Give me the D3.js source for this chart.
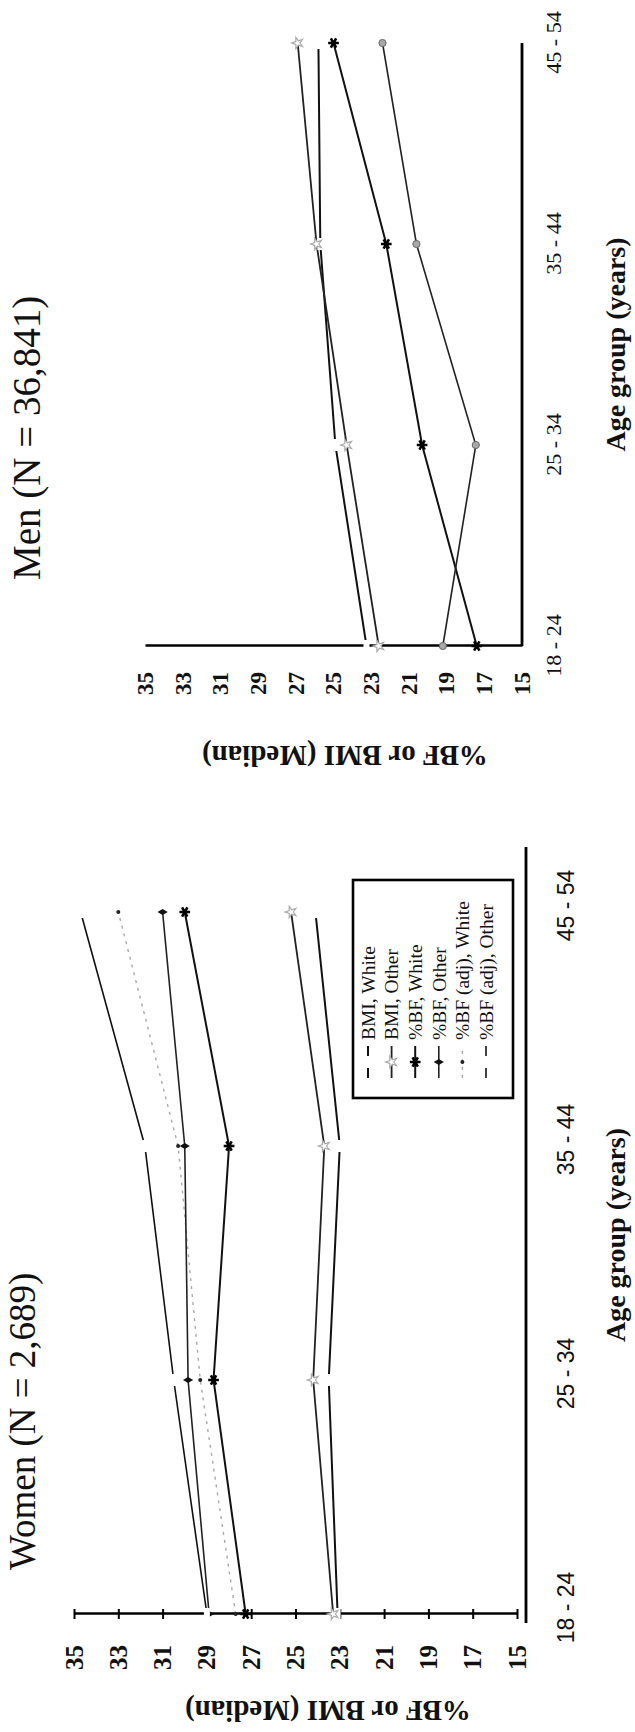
<!DOCTYPE html>
<html>
<head>
<meta charset="utf-8">
<script src="https://cdn.jsdelivr.net/npm/d3@7"></script>
<style>
  body { margin: 0; background: #fff; }
  svg { display: block; }
  text { fill: #111; }
</style>
</head>
<body>
<div id="chart"></div>
<script>
// values (median %BF / BMI by age group)
const ages = ['18 - 24', '25 - 34', '35 - 44', '45 - 54']
const valueTicks = [35, 33, 31, 29, 27, 25, 23, 21, 19, 17, 15]
const seriesNames = ['BMI, White', 'BMI, Other', '%BF, White', '%BF, Other',
  '%BF (adj), White', '%BF (adj), Other']

const womenBmiWhite = [23.1, 23.5, 23.0, 24.1]
const womenBmiOther = [23.3, 24.2, 23.7, 25.2]
const womenBfWhite = [27.25, 28.7, 28.0, 30.0]
const womenBfOther = [28.9, 29.85, 30.0, 31.0]
const womenBfAdjWhite = [27.7, 29.3, 30.3, 33.0]
const womenBfAdjOther = [29.0, 30.5, 31.8, 34.7]

const menBmiWhite = [23.25, 24.9, 25.7, 25.8]
const menBmiOther = [22.6, 24.3, 25.9, 26.9]
const menBfWhite = [17.4, 20.3, 22.2, 25.0]
const menBfOther = [19.2, 17.45, 20.6, 22.4]

const W = 635
const H = 1732
const serif = '"Liberation Serif", "Times New Roman", serif'
const sans = '"Liberation Sans", Arial, sans-serif'

// line + marker look of each series
const styles = {
  'BMI, White': {stroke: '#111', width: 2, dash: null, marker: 'gap'},
  'BMI, Other': {stroke: '#222', width: 1.8, dash: null, marker: 'open'},
  '%BF, White': {stroke: '#111', width: 2, dash: null, marker: 'star'},
  '%BF, Other': {stroke: '#222', width: 1.6, dash: null, marker: 'diamond'},
  '%BF (adj), White': {stroke: '#aaa', width: 1.4, dash: '3,5', marker: 'dot'},
  '%BF (adj), Other': {stroke: '#111', width: 1.6, dash: null, marker: 'gap'},
}

const svg = d3.select('#chart').append('svg')
    .attr('width', W).attr('height', H)

// the page is printed sideways: draw landscape, turn it a quarter left
const page = svg.append('g')
    .attr('transform', `translate(0,${H}) rotate(-90)`)

function drawMarker(g, kind, x, y) {
  if (kind === 'gap') {
    g.append('rect').attr('x', x - 6).attr('y', y - 3)
        .attr('width', 12).attr('height', 6).attr('fill', '#fff')
  } else if (kind === 'open') {
    g.append('path').attr('transform', `translate(${x},${y})`)
        .attr('d', d3.symbol(d3.symbolStar, 40)())
        .attr('fill', '#fff').attr('stroke', '#aaa').attr('stroke-width', 1.2)
  } else if (kind === 'star') {
    g.append('path').attr('transform', `translate(${x},${y})`)
        .attr('d', d3.symbol(d3.symbolAsterisk, 80)())
        .attr('fill', 'none').attr('stroke', '#000').attr('stroke-width', 2.6)
  } else if (kind === 'diamond') {
    g.append('path').attr('transform', `translate(${x},${y})`)
        .attr('d', d3.symbol(d3.symbolDiamond, 30)())
        .attr('fill', '#111')
  } else if (kind === 'dot') {
    g.append('circle').attr('cx', x).attr('cy', y).attr('r', 2).attr('fill', '#222')
  } else if (kind === 'circle') {
    g.append('circle').attr('cx', x).attr('cy', y).attr('r', 3.6)
        .attr('fill', '#a8a8a8').attr('stroke', '#666').attr('stroke-width', 1)
  }
}

function drawPanel(opt) {
  const g = page.append('g')
  const x = d3.scalePoint().domain(ages).range(opt.xRange)
  const y = d3.scaleLinear().domain([15, 35]).range(opt.yRange)

  // title
  g.append('text').attr('x', opt.titleX).attr('y', opt.titleY)
      .style('font-family', serif).style('font-size', opt.titleSize + 'px')
      .text(opt.title)

  // value axis
  const yAxis = g.append('g')
      .attr('transform', `translate(${opt.xRange[0]},0)`)
      .call(d3.axisLeft(y).tickValues(valueTicks).tickSize(0)
          .tickPadding(opt.tickPad).tickFormat(d3.format('d')))
  yAxis.select('.domain').attr('stroke', '#000').attr('stroke-width', 2.6)
  yAxis.selectAll('.tick line').attr('x1', -opt.tickLen).attr('x2', opt.tickLen)
      .attr('stroke', '#000').attr('stroke-width', 2)
  yAxis.selectAll('.tick text')
      .style('font-family', serif).style('font-size', opt.valueFont + 'px')
      .style('font-weight', 'bold').attr('fill', '#111')

  // category axis
  g.append('line')
      .attr('x1', opt.catLine[0]).attr('x2', opt.catLine[1])
      .attr('y1', opt.catY).attr('y2', opt.catY)
      .attr('stroke', '#000').attr('stroke-width', 2.8)
  const xAxis = g.append('g')
      .attr('transform', `translate(${opt.catLabelShift},${opt.catY})`)
      .call(d3.axisBottom(x).tickSize(0).tickPadding(opt.catPad))
  xAxis.select('.domain').remove()
  xAxis.selectAll('.tick text')
      .style('font-family', opt.catFamily).style('font-size', opt.catFont + 'px')
      .attr('fill', '#111')

  // axis titles
  g.append('text')
      .attr('x', (opt.catLine[0] + opt.catLine[1]) / 2).attr('y', opt.xTitleY)
      .attr('text-anchor', 'middle')
      .style('font-family', serif).style('font-size', '28px').style('font-weight', 'bold')
      .text('Age group (years)')
  g.append('text')
      .attr('transform', `translate(${opt.yTitlePos[0]},${opt.yTitlePos[1]}) rotate(-90)`)
      .attr('text-anchor', 'middle')
      .style('font-family', serif).style('font-size', '29px').style('font-weight', 'bold')
      .text('%BF or BMI (Median)')

  // series
  const line = d3.line().x((d, i) => x(ages[i])).y((d) => y(d))
  opt.series.forEach((s) => {
    const st = styles[s.name]
    g.append('path').datum(s.values)
        .attr('d', line).attr('fill', 'none')
        .attr('stroke', st.stroke).attr('stroke-width', st.width)
        .attr('stroke-dasharray', st.dash)
  })
  opt.series.forEach((s) => {
    const kind = s.marker || styles[s.name].marker
    s.values.forEach((v, i) => drawMarker(g, kind, x(ages[i]), y(v)))
  })
  return g
}

const women = drawPanel({
  title: 'Women (N = 2,689)', titleX: 162, titleY: 35, titleSize: 37,
  xRange: [118, 820], yRange: [517, 74],
  tickPad: 31, tickLen: 5, valueFont: 25,
  catLine: [109, 885], catY: 526, catPad: 32, catFont: 23, catFamily: sans,
  catLabelShift: 6,
  xTitleY: 625, yTitlePos: [31, 328],
  series: [
    {name: '%BF (adj), White', values: womenBfAdjWhite},
    {name: 'BMI, White', values: womenBmiWhite},
    {name: 'BMI, Other', values: womenBmiOther},
    {name: '%BF, White', values: womenBfWhite},
    {name: '%BF, Other', values: womenBfOther},
    {name: '%BF (adj), Other', values: womenBfAdjOther},
  ],
})

drawPanel({
  title: 'Men  (N = 36,841)', titleX: 1152, titleY: 40, titleSize: 39,
  xRange: [1086, 1689], yRange: [522, 145],
  tickPad: 26, tickLen: 0, valueFont: 23,
  catLine: [1086, 1689], catY: 522, catPad: 23, catFont: 22, catFamily: serif,
  catLabelShift: 0,
  xTitleY: 625, yTitlePos: [986, 345],
  series: [
    {name: 'BMI, White', values: menBmiWhite},
    {name: 'BMI, Other', values: menBmiOther},
    {name: '%BF, White', values: menBfWhite},
    {name: '%BF, Other', values: menBfOther, marker: 'circle'},
  ],
})

// legend (women panel)
const legend = women.append('g')
legend.append('rect')
    .attr('x', 634).attr('y', 353).attr('width', 218).attr('height', 160)
    .attr('fill', '#fff').attr('stroke', '#000').attr('stroke-width', 2.6)
seriesNames.forEach((name, i) => {
  const st = styles[name]
  const ly = 368 + i * 23.6
  legend.append('line').attr('x1', 654).attr('x2', 686).attr('y1', ly).attr('y2', ly)
      .attr('stroke', st.stroke).attr('stroke-width', st.width)
      .attr('stroke-dasharray', st.dash)
  drawMarker(legend, st.marker, 670, ly)
  legend.append('text').attr('x', 692).attr('y', ly).attr('dy', '0.35em')
      .style('font-family', serif).style('font-size', '19.5px')
      .text(name)
})
</script>
</body>
</html>
